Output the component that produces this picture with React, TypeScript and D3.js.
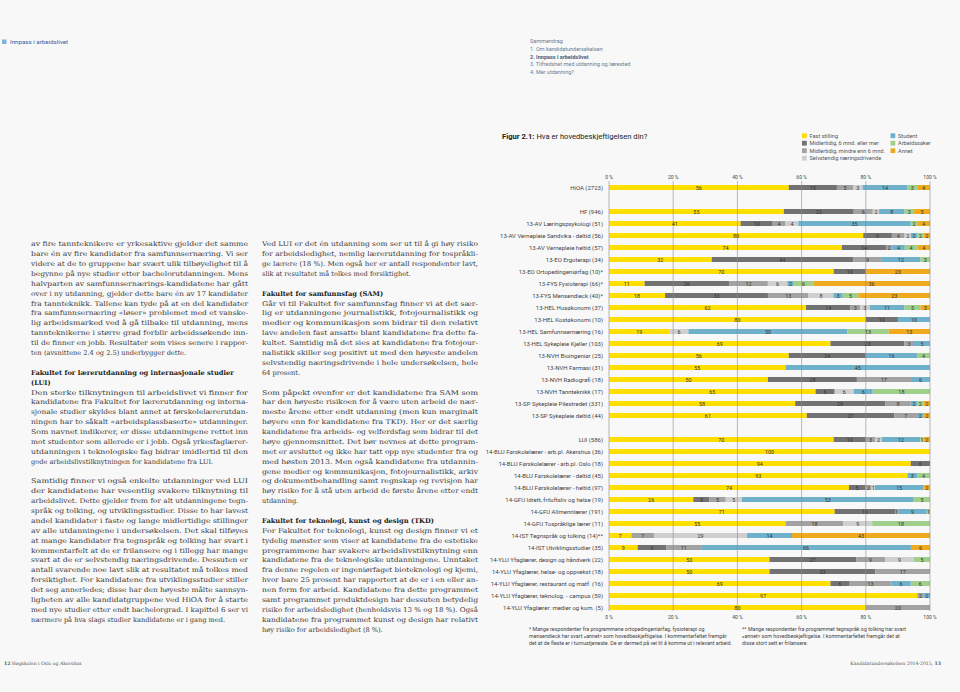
import React from "react";
import * as d3 from "d3";

// ---------- DATA ----------
const categories = [
  "Fast stilling",
  "Midlertidig, 6 mnd. eller mer",
  "Midlertidig, mindre enn 6 mnd.",
  "Selvstendig næringsdrivende",
  "Student",
  "Arbeidssøker",
  "Annet",
];
const colors = ["#FFDE00", "#727272", "#a2a2a2", "#cfcfcf", "#6fb1cb", "#a0cf8c", "#F0AA1E"];

const rowLabels = [
  "HiOA (2723)",
  "HF (946)",
  "13-AV Læringspsykologi (51)",
  "13-AV Vernepleie Sandvika - deltid (56)",
  "13-AV Vernepleie heltid (57)",
  "13-EO Ergoterapi (34)",
  "13-EO Ortopedingeniørfag (10)*",
  "13-FYS Fysioterapi (66)*",
  "13-FYS Mensendieck (40)*",
  "13-HEL Husøkonomi (37)",
  "13-HEL Kostøkonomi (10)",
  "13-HEL Samfunnsernæring (16)",
  "13-HEL Sykepleie Kjeller (103)",
  "13-NVH Bioingeniør (25)",
  "13-NVH Farmasi (31)",
  "13-NVH Radiografi (18)",
  "13-NVH Tannteknikk (17)",
  "13-SP Sykepleie Pilestredet (331)",
  "13-SP Sykepleie deltid (44)",
  "LUI (586)",
  "14-BLU Førskolelærer - arb.pl. Akershus (36)",
  "14-BLU Førskolelærer - arb.pl. Oslo (18)",
  "14-BLU Førskolelærer - deltid  (45)",
  "14-BLU Førskolelærer - heltid (97)",
  "14-GFU Idrett, friluftsliv og helse (19)",
  "14-GFU Allmennlærer (191)",
  "14-GFU Tospråklige lærer (11)",
  "14-IST Tegnspråk og tolking (14)**",
  "14-IST Utviklingsstudier (35)",
  "14-YLU Yfaglærer, design og håndverk (22)",
  "14-YLU Yfaglærer, helse- og oppvekst (18)",
  "14-YLU Yfaglærer, restaurant og matf. (16)",
  "14-YLU Yfaglærer, teknolog. - campus (59)",
  "14-YLU Yfaglærer: medier og kom. (5)",
];
const fastStilling = [56, 55, 41, 80, 74, 32, 70, 11, 18, 62, 80, 19, 69, 56, 55, 50, 65, 58, 61, 70, 100, 94, 93, 74, 26, 71, 55, 7, 9, 50, 50, 69, 97, 80];
const midl6 = [15, 22, 10, 9, 14, 44, 10, 26, 33, 14, 10, 0, 23, 24, 0, 28, 6, 28, 27, 10, 0, 6, 0, 5, 5, 19, 0, 0, 9, 27, 33, 6, 0, 0];
const midlUnder6 = [5, 6, 4, 4, 2, 9, 0, 12, 13, 3, 0, 0, 3, 0, 0, 17, 0, 8, 7, 3, 0, 0, 0, 2, 5, 1, 18, 7, 11, 9, 17, 13, 2, 20];
const selvstendig = [3, 2, 4, 2, 0, 0, 0, 6, 8, 3, 0, 6, 0, 0, 0, 0, 6, 0, 0, 2, 0, 0, 0, 1, 5, 0, 9, 29, 0, 9, 0, 0, 0, 0];
const student = [14, 8, 35, 2, 4, 12, 0, 2, 3, 11, 10, 50, 5, 16, 45, 6, 6, 2, 2, 12, 0, 0, 3, 15, 53, 9, 0, 14, 66, 0, 0, 6, 2, 0];
const arbeidssoker = [3, 3, 2, 2, 4, 3, 0, 6, 5, 5, 0, 13, 0, 4, 0, 0, 18, 2, 0, 1, 0, 0, 4, 0, 5, 1, 18, 0, 0, 5, 0, 6, 0, 0];
const annet = [4, 5, 4, 2, 4, 0, 20, 36, 23, 3, 0, 13, 0, 0, 0, 0, 0, 2, 2, 2, 0, 0, 0, 2, 0, 0, 0, 43, 6, 0, 0, 0, 0, 0];
const gapAfter = [0, 18]; // an empty row follows these row indices
const tickValues = [0, 0.2, 0.4, 0.6, 0.8, 1];

const navItems = [
  { t: "Sammendrag", b: false },
  { t: "1. Om kandidatundersøkelsen", b: false },
  { t: "2. Innpass i arbeidslivet", b: true },
  { t: "3. Tilfredshet med utdanning og lærested", b: false },
  { t: "4. Mer utdanning?", b: false },
];

// text: "#" heading line, "" blank, "~" prefix = paragraph-final (not justified)
const col1 = [
  "av fire tannteknikere er yrkesaktive gjelder det samme",
  "bare én av fire kandidater fra samfunnsernæring. Vi ser",
  "videre at de to gruppene har svært ulik tilbøyelighet til å",
  "begynne på nye studier etter bachelorutdanningen. Mens",
  "halvparten av samfunnsernærings-kandidatene har gått",
  "over i ny utdanning, gjelder dette bare én av 17 kandidater",
  "fra tannteknikk. Tallene kan tyde på at en del kandidater",
  "fra samfunnsernæring «løser» problemet med et vanske-",
  "lig arbeidsmarked ved å gå tilbake til utdanning, mens",
  "tannteknikerne i større grad forblir arbeidssøkende inn-",
  "til de finner en jobb. Resultater som vises senere i rappor-",
  "~ten (avsnittene 2.4 og 2.5) underbygger dette.",
  "",
  "#Fakultet for lærerutdanning og internasjonale studier",
  "#(LUI)",
  "Den sterke tilknytningen til arbeidslivet vi finner for",
  "kandidatene fra Fakultet for lærerutdanning og interna-",
  "sjonale studier skyldes blant annet at førskolelærerutdan-",
  "ningen har to såkalt «arbeidsplassbaserte» utdanninger.",
  "Som navnet indikerer, er disse utdanningene rettet inn",
  "mot studenter som allerede er i jobb. Også yrkesfaglærer-",
  "utdanningen i teknologiske fag bidrar imidlertid til den",
  "~gode arbeidslivstilknytningen for kandidatene fra LUI.",
  "",
  "Samtidig finner vi også enkelte utdanninger ved LUI",
  "der kandidatene har vesentlig svakere tilknytning til",
  "arbeidslivet. Dette gjelder frem for alt utdanningene tegn-",
  "språk og tolking, og utviklingsstudier. Disse to har lavest",
  "andel kandidater i faste og lange midlertidige stillinger",
  "av alle utdanningene i undersøkelsen. Det skal tilføyes",
  "at mange kandidater fra tegnspråk og tolking har svart i",
  "kommentarfelt at de er frilansere og i tillegg har mange",
  "svart at de er selvstendig næringsdrivende. Dessuten er",
  "antall svarende noe lavt slik at resultatet må tolkes med",
  "forsiktighet. For kandidatene fra utviklingsstudier stiller",
  "det seg annerledes; disse har den høyeste målte sannsyn-",
  "ligheten av alle kandidatgruppene ved HiOA for å starte",
  "med nye studier etter endt bachelorgrad. I kapittel 6 ser vi",
  "~nærmere på hva slags studier kandidatene er i gang med.",
];
const col2 = [
  "Ved LUI er det én utdanning som ser ut til å gi høy risiko",
  "for arbeidsledighet, nemlig lærerutdanning for tospråkli-",
  "ge lærere (18 %). Men også her er antall respondenter lavt,",
  "~slik at resultatet må tolkes med forsiktighet.",
  "",
  "#Fakultet for samfunnsfag (SAM)",
  "Går vi til Fakultet for samfunnsfag finner vi at det sær-",
  "lig er utdanningene journalistikk, fotojournalistikk og",
  "medier og kommunikasjon som bidrar til den relativt",
  "lave andelen fast ansatte blant kandidatene fra dette fa-",
  "kultet. Samtidig må det sies at kandidatene fra fotojour-",
  "nalistikk skiller seg positivt ut med den høyeste andelen",
  "selvstendig næringsdrivende i hele undersøkelsen, hele",
  "~64 prosent.",
  "",
  "Som påpekt ovenfor er det kandidatene fra SAM som",
  "har den høyeste risikoen for å være uten arbeid de nær-",
  "meste årene etter endt utdanning (men kun marginalt",
  "høyere enn for kandidatene fra TKD). Her er det særlig",
  "kandidatene fra arbeids- og velferdsfag som bidrar til det",
  "høye gjennomsnittet. Det bør nevnes at dette program-",
  "met er avsluttet og ikke har tatt opp nye studenter fra og",
  "med høsten 2013. Men også kandidatene fra utdannin-",
  "gene medier og kommunikasjon, fotojournalistikk, arkiv",
  "og dokumentbehandling samt regnskap og revisjon har",
  "høy risiko for å stå uten arbeid de første årene etter endt",
  "~utdanning.",
  "",
  "#Fakultet for teknologi, kunst og design (TKD)",
  "For Fakultet for teknologi, kunst og design finner vi et",
  "tydelig mønster som viser at kandidatene fra de estetiske",
  "programmene har svakere arbeidslivstilknytning enn",
  "kandidatene fra de teknologiske utdanningene. Unntaket",
  "fra denne regelen er ingeniørfaget bioteknologi og kjemi,",
  "hvor bare 25 prosent har rapportert at de er i en eller an-",
  "nen form for arbeid. Kandidatene fra dette programmet",
  "samt programmet produktdesign har dessuten betydelig",
  "risiko for arbeidsledighet (henholdsvis 13 % og 18 %). Også",
  "kandidatene fra programmet kunst og design har relativt",
  "~høy risiko for arbeidsledighet (8 %).",
];

const footnote1 = [
  "* Mange respondenter fra programmene ortopedingeniørfag, fysioterapi og",
  "mensendieck har svart «annet» som hovedbeskjeftigelse. I kommentarfeltet fremgår",
  "det at de fleste er i turnustjeneste. De er dermed på vei til å komme ut i relevant arbeid.",
];
const footnote2 = [
  "** Mange respondenter fra programmet tegnspråk og tolking har svart",
  "«annet» som hovedbeskjeftigelse. I kommentarfeltet fremgår det at",
  "disse stort sett er frilansere.",
];

const SANS = "Roboto, 'Liberation Sans', sans-serif";
const SERIF = "'DejaVu Serif', serif";

function TextColumn({ lines, x, y0, width, lead }: { lines: string[]; x: number; y0: number; width: number; lead: number }) {
  return (
    <g>
      {lines.map((raw, i) => {
        if (raw === "") return null;
        const y = y0 + i * lead;
        if (raw.startsWith("#")) {
          return (
            <text key={i} x={x} y={y} fontFamily={SERIF} fontSize={6.7} fontWeight="bold" fill="#222" dominantBaseline="central">
              {raw.slice(1)}
            </text>
          );
        }
        const last = raw.startsWith("~");
        const t = last ? raw.slice(1) : raw;
        return (
          <text
            key={i}
            x={x}
            y={y}
            fontFamily={SERIF}
            fontSize={6.6}
            fill="#3a3a3a"
            dominantBaseline="central"
            {...(last ? {} : { textLength: width, lengthAdjust: "spacingAndGlyphs" })}
          >
            {t}
          </text>
        );
      })}
    </g>
  );
}

export default function App() {
  const W = 960;
  const H = 692;

  const keys = ["fast", "m6", "mu6", "selv", "student", "arbeid", "annet"];
  const series = [fastStilling, midl6, midlUnder6, selvstendig, student, arbeidssoker, annet];
  const data = rowLabels.map((label, i) => {
    const o: any = { label };
    keys.forEach((k, j) => (o[k] = series[j][i]));
    return o;
  });
  const stacked = d3.stack<any>().keys(keys).offset(d3.stackOffsetExpand)(data);

  // build row domain with spacer rows
  const domain: string[] = [];
  rowLabels.forEach((l, i) => {
    domain.push(l);
    if (gapAfter.includes(i)) domain.push("__gap" + i);
  });

  const x = d3.scaleLinear().domain([0, 1]).range([609, 930]);
  const y = d3.scalePoint<string>().domain(domain).range([187.5, 187.5 + (domain.length - 1) * 12]);
  const barH = 5;
  const gridTop = 181;
  const gridBottom = 611;

  return (
    <svg width={W} height={H} style={{ position: "absolute", left: 0, top: 0, display: "block" }}>
      <rect x={0} y={0} width={W} height={H} fill="#f8f8f8" />

      {/* left page header */}
      <rect x={2} y={39.5} width={4.5} height={4.5} fill="#7fb3d9" />
      <text x={10} y={42} fontFamily={SANS} fontSize={6.2} fill="#2d5fa8" dominantBaseline="central">
        Innpass i arbeidslivet
      </text>

      {/* right page nav */}
      {navItems.map((n, i) => (
        <text key={i} x={530} y={41 + i * 7.8} fontFamily={SANS} fontSize={5.5} fontWeight={n.b ? "bold" : "normal"} fill={n.b ? "#4a5f78" : "#6b7d92"} dominantBaseline="central">
          {n.t}
        </text>
      ))}

      {/* body text */}
      <TextColumn lines={col1} x={31} y0={244.3} width={217} lead={9.88} />
      <TextColumn lines={col2} x={262} y0={244.3} width={216} lead={9.88} />

      {/* figure title */}
      <text x={502} y={136} fontFamily={SANS} fontSize={7.6} fill="#222" dominantBaseline="central">
        <tspan fontWeight="bold">Figur 2.1:</tspan> Hva er hovedbeskjeftigelsen din?
      </text>

      {/* legend */}
      {categories.map((c, i) => {
        const col = i < 4 ? 0 : 1;
        const row = i < 4 ? i : i - 4;
        const lx = col === 0 ? 802 : 890.5;
        const ly = 135.7 + row * 7.5;
        return (
          <g key={c}>
            <rect x={lx} y={ly - 2.4} width={4.8} height={4.8} fill={colors[i]} />
            <text x={lx + 7.5} y={ly} fontFamily={SANS} fontSize={5.6} fill="#555" dominantBaseline="central">
              {c}
            </text>
          </g>
        );
      })}

      {/* axis labels */}
      {tickValues.map((t) => (
        <g key={t}>
          <text x={x(t)} y={177} fontFamily={SANS} fontSize={5} fill="#444" textAnchor="middle" dominantBaseline="central">
            {`${Math.round(t * 100)} %`}
          </text>
          <text x={x(t)} y={616.7} fontFamily={SANS} fontSize={5} fill="#444" textAnchor="middle" dominantBaseline="central">
            {`${Math.round(t * 100)} %`}
          </text>
        </g>
      ))}

      {/* bars */}
      {stacked.map((s, si) => (
        <g key={s.key}>
          {s.map((d, ri) => {
            const w = x(d[1]) - x(d[0]);
            if (w <= 0) return null;
            return <rect key={ri} x={x(d[0])} y={(y(rowLabels[ri]) as number) - barH / 2} width={w} height={barH} fill={colors[si]} />;
          })}
        </g>
      ))}

      {/* gridlines */}
      {tickValues.map((t) => (
        <line key={t} x1={x(t)} x2={x(t)} y1={gridTop} y2={gridBottom} stroke="#8c8c8c" strokeWidth={0.6} />
      ))}

      {/* value labels */}
      {stacked.map((s, si) => (
        <g key={"l" + s.key}>
          {s.map((d, ri) => {
            const v = series[si][ri];
            if (!v) return null;
            return (
              <text key={ri} x={(x(d[0]) + x(d[1])) / 2} y={y(rowLabels[ri]) as number} fontFamily={SANS} fontSize={5.4} fill="#333" textAnchor="middle" dominantBaseline="central">
                {v}
              </text>
            );
          })}
        </g>
      ))}

      {/* row labels */}
      {rowLabels.map((l) => (
        <text key={l} x={603} y={y(l) as number} fontFamily={SANS} fontSize={6} fill="#444" textAnchor="end" dominantBaseline="central">
          {l}
        </text>
      ))}

      {/* footnotes */}
      {footnote1.map((t, i) => (
        <text key={"f1" + i} x={529} y={629.3 + i * 6.9} fontFamily={SANS} fontSize={5.3} fill="#444" dominantBaseline="central">
          {t}
        </text>
      ))}
      {footnote2.map((t, i) => (
        <text key={"f2" + i} x={742} y={629.3 + i * 6.9} fontFamily={SANS} fontSize={5.3} fill="#444" dominantBaseline="central">
          {t}
        </text>
      ))}

      {/* page footers */}
      <text x={4} y={663} fontFamily={SERIF} fontSize={4.6} fill="#555" dominantBaseline="central">
        <tspan fontWeight="bold">12</tspan> Høgskolen i Oslo og Akershus
      </text>
      <text x={941} y={663} fontFamily={SERIF} fontSize={4.6} fill="#555" textAnchor="end" dominantBaseline="central">
        Kandidatundersøkelsen 2014-2015, <tspan fontWeight="bold">13</tspan>
      </text>
    </svg>
  );
}
